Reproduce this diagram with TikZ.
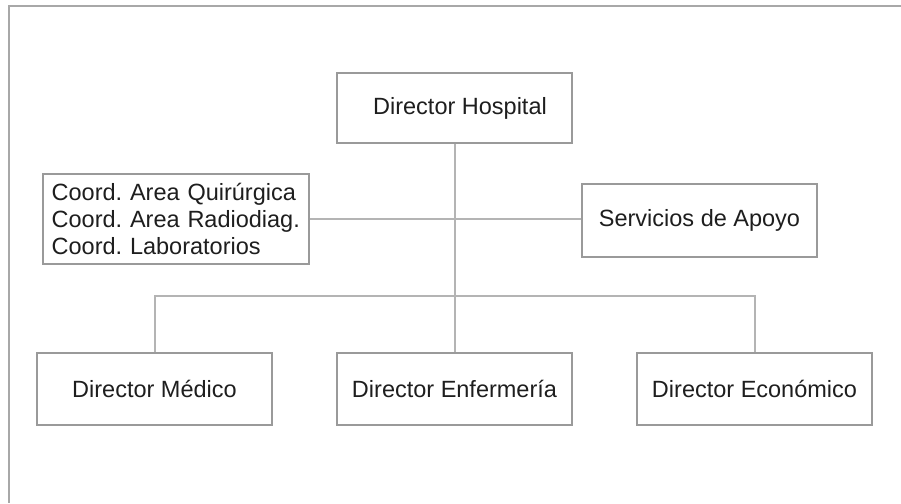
\documentclass[tikz,border=0pt]{standalone}
\usepackage{fontspec}
\setmainfont{Liberation Sans}
\definecolor{boxgray}{HTML}{9A9A9A}
\definecolor{linegray}{HTML}{B4B4B4}
\definecolor{framegray}{HTML}{A8A8A8}
\definecolor{txt}{HTML}{1E1E1E}
\frenchspacing
\begin{document}
\begin{tikzpicture}[x=1pt,y=-1pt,
  box/.style={draw=boxgray, line width=1.5pt, fill=white, text=txt,
    font=\fontsize{23.5}{27}\selectfont, inner sep=0pt},
  conn/.style={draw=linegray, line width=2pt}]
\useasboundingbox (0,0) rectangle (901,503);
\fill[white] (0,0) rectangle (901,503);
% frame
\draw[framegray, line width=2pt] (901,6) -- (9,6) -- (9,503);
% nodes
\node[box, minimum width=235pt, minimum height=70pt] (hosp) at (454.5,108) {\hspace*{11pt}Director Hospital};
\node[box, minimum width=266pt, minimum height=90pt, text width=248.6pt, inner xsep=8.7pt, align=left] (coord) at (176,219)
  {Coord. Area Quirúrgica\\Coord. Area Radiodiag.\\Coord. Laboratorios};
\node[box, minimum width=235pt, minimum height=73pt] (serv) at (699.5,220.5) {Servicios de Apoyo};
\node[box, minimum width=235pt, minimum height=72pt] (med) at (154.5,389) {Director Médico};
\node[box, minimum width=235pt, minimum height=72pt] (enf) at (454.5,389) {Director Enfermería};
\node[box, minimum width=235pt, minimum height=72pt] (eco) at (754.5,389) {Director Económico};
\coordinate (bar) at (454.5,296);
% connectors
\draw[conn] (hosp.south) -- (enf.north);
\draw[conn] (coord.east) -- (coord.east -| serv.west);
\draw[conn] (med.north) -- (med.north |- bar) -- (eco.north |- bar) -- (eco.north);
\end{tikzpicture}
\end{document}
